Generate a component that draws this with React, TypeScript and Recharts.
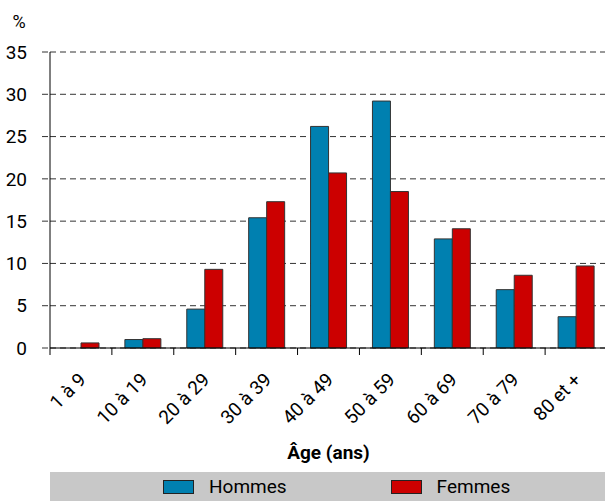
import { BarChart, Bar, XAxis, YAxis, CartesianGrid, Legend, Label } from 'recharts';

const ageGroups = ['1 à 9', '10 à 19', '20 à 29', '30 à 39', '40 à 49', '50 à 59', '60 à 69', '70 à 79', '80 et +'];
const hommes = [0, 1.0, 4.6, 15.4, 26.2, 29.2, 12.9, 6.9, 3.7];
const femmes = [0.6, 1.1, 9.3, 17.3, 20.7, 18.5, 14.1, 8.6, 9.7];
const yTicks = [0, 5, 10, 15, 20, 25, 30, 35];
const seriesOrder = ['hommes', 'femmes'];

const data = ageGroups.map((age, i) => ({ age, hommes: hommes[i], femmes: femmes[i] }));

const CHART_W = 610;
const CHART_H = 501;
const MARGIN = { top: 52, right: 3, bottom: 0, left: 0 };
const Y_W = 50;
const BAND = (CHART_W - MARGIN.left - MARGIN.right - Y_W) / ageGroups.length;

const BLUE = '#0080b0';
const RED = '#cc0000';

// label rotated at the band centre, tick mark on the band's left edge
function AgeTick(props: any) {
  const { x, y, payload } = props;
  const edge = x - BAND / 2;
  return (
    <g>
      <line x1={edge} x2={edge} y1={y} y2={y + 7} stroke="#000" />
      <text
        transform={`translate(${x + 6},${y + 33}) rotate(-45)`}
        textAnchor="end"
        fontSize={19}
        fill="#000"
      >
        {payload.value}
      </text>
    </g>
  );
}

function LegendBox(props: any) {
  const items = [...(props.payload || [])].sort(
    (a: any, b: any) => seriesOrder.indexOf(a.dataKey) - seriesOrder.indexOf(b.dataKey)
  );
  return (
    <div
      style={{
        background: '#c8c8c8',
        height: 29,
        display: 'flex',
        alignItems: 'center',
        paddingLeft: 113,
        gap: 104,
        fontSize: 19,
        color: '#000',
      }}
    >
      {items.map((it: any) => (
        <div key={it.value} style={{ display: 'flex', alignItems: 'center' }}>
          <span
            style={{
              display: 'inline-block',
              width: 29,
              height: 12,
              background: it.color,
              border: '1px solid #222',
              marginRight: 15,
            }}
          />
          <span>{it.value}</span>
        </div>
      ))}
    </div>
  );
}

export default function App() {
  return (
    <div
      style={{
        position: 'fixed',
        left: 0,
        top: 0,
        width: 605,
        height: 501,
        overflow: 'hidden',
        background: '#fff',
        fontFamily: 'Roboto, sans-serif',
      }}
    >
      <BarChart width={CHART_W} height={CHART_H} data={data} margin={MARGIN} barGap={0} barSize={18}>
        <CartesianGrid vertical={false} stroke="#333" strokeDasharray="6 4" />
        <XAxis
          dataKey="age"
          height={124}
          tick={<AgeTick />}
          tickLine={false}
          tickSize={0}
          tickMargin={0}
          interval={0}
          axisLine={{ stroke: '#000' }}
        >
          <Label value="Âge (ans)" position="insideBottom" offset={13} fontSize={19} fontWeight="bold" fill="#000" />
        </XAxis>
        <YAxis
          width={Y_W}
          domain={[0, 35]}
          ticks={yTicks}
          interval={0}
          tickSize={8}
          tickMargin={15}
          tick={{ fontSize: 19, fill: '#000' }}
          tickLine={{ stroke: '#333', strokeDasharray: '6 4' }}
          axisLine={{ stroke: '#000' }}
        >
          <Label value="%" position="top" offset={24} dx={-6} fontSize={18} fill="#000" />
        </YAxis>
        <Legend
          verticalAlign="bottom"
          content={<LegendBox />}
          wrapperStyle={{ left: 50, width: 560, bottom: 0 }}
        />
        <Bar dataKey="hommes" name="Hommes" fill={BLUE} stroke="#333" isAnimationActive={false} />
        <Bar dataKey="femmes" name="Femmes" fill={RED} stroke="#333" isAnimationActive={false} />
      </BarChart>
    </div>
  );
}
